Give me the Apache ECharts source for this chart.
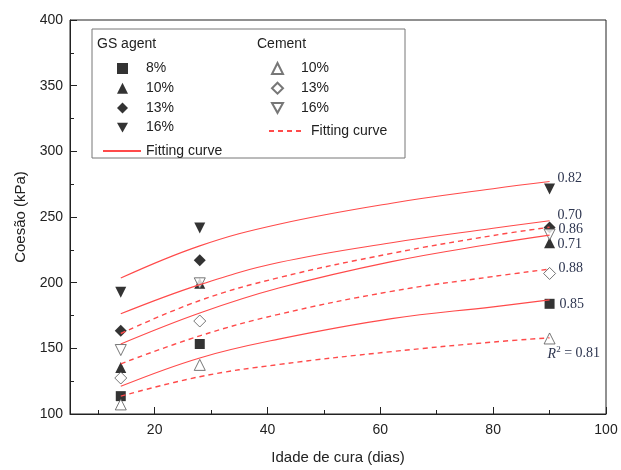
<!DOCTYPE html>
<html>
<head>
<meta charset="utf-8">
<script src="https://cdn.jsdelivr.net/npm/echarts@6/dist/echarts.min.js"></script>
<style>html,body{margin:0;padding:0;background:#fff}#c{width:621px;height:470px}</style>
</head>
<body>
<div id="c"></div>
<script>
// ---- data ----
const days = [14, 28, 90];
const gs8  = [113.6, 153.3, 183.9];
const gs10 = [135.4, 199.5, 230.4];
const gs13 = [163.3, 217.0, 242.0];
const gs16 = [192.7, 241.7, 271.3];
const c10  = [107.3, 137.4, 157.5];
const c13  = [127.4, 170.8, 207.0];
const c16  = [148.7, 199.5, 236.6];

// fitting curves, read at several ages
const fitX   = [14, 28, 42, 62, 80, 90];
const fitGS16 = [203.5, 228.0, 244.5, 260.5, 271.5, 277.0];
const fitGS13 = [176.3, 198.5, 215.3, 230.4, 241.4, 247.2];
const fitGS10 = [153.3, 176.9, 195.9, 216.0, 229.6, 236.2];
const fitGS8  = [121.1, 142.7, 157.0, 172.6, 181.6, 186.9];
const fitC16  = [161.3, 186.4, 203.8, 222.3, 235.9, 242.2];
const fitC13  = [138.2, 159.5, 175.9, 193.4, 204.7, 210.3];
const fitC10  = [113.6, 128.4, 137.7, 147.5, 154.8, 158.0];

const r2GS = ['0.82', '0.70', '0.71', '0.85'];
const r2C  = ['0.86', '0.88', '0.81'];

const xMajor = [20, 40, 60, 80, 100];
const xMinor = [10, 30, 50, 70, 90];

// ---- build ----
const pts = (ys) => days.map((d, i) => [d, ys[i]]);
const fpts = (ys) => fitX.map((d, i) => [d, ys[i]]);
const RED = '#ff4a4a';
const OPEN = {color: '#fff', borderColor: '#555', borderWidth: 1};
const FILL = {color: '#000'};
const lblStyle = {fontFamily: 'Liberation Serif', fontSize: 14, color: '#2e3650'};
const DOWN = 'path://M0,0 L10,0 L5,9 Z';

function scatter(name, ys, symbol, size, style, rot) {
  return {type: 'scatter', name, data: pts(ys), symbol, symbolSize: size,
          symbolRotate: rot || 0, itemStyle: style, z: 2};
}
function fit(name, ys, dashed, txt, off) {
  return {type: 'line', name, data: fpts(ys), smooth: 0.4, symbol: 'none', z: 3,
          lineStyle: {color: RED, width: dashed ? 1.4 : 1.1, type: dashed ? [5, 4] : 'solid'},
          itemStyle: {color: RED},
          endLabel: {show: true, formatter: txt, offset: off, distance: 6, ...lblStyle,
            rich: {i: {fontFamily: 'Liberation Serif', fontStyle: 'italic', fontSize: 14, color: '#2e3650'},
                   s: {fontFamily: 'Liberation Serif', fontSize: 9, color: '#2e3650', verticalAlign: 'bottom', padding: [0, 0, 8, 0]},
                   t: {fontFamily: 'Liberation Serif', fontSize: 14, color: '#2e3650'}}},
          emphasis: {disabled: true}};
}
const nameMap = {'GS 8%': '8%', 'GS 10%': '10%', 'GS 13%': '13%', 'GS 16%': '16%', 'GS fit': 'Fitting curve',
                 'C 10%': '10%', 'C 13%': '13%', 'C 16%': '16%', 'C fit': 'Fitting curve'};
const legTxt = {fontFamily: 'Liberation Sans', fontSize: 14, color: '#222', lineHeight: 14};
const GAP = 6.7;

const option = {
  animation: false,
  backgroundColor: '#fff',
  grid: {left: 70, right: 15, top: 20, bottom: 52, show: true, borderColor: '#222', borderWidth: 1},
  xAxis: [{
    type: 'value', min: 5, max: 100,
    name: 'Idade de cura (dias)', nameLocation: 'middle', nameGap: 36,
    nameTextStyle: {fontFamily: 'Liberation Sans', fontSize: 15, color: '#222'},
    axisLine: {lineStyle: {color: '#222'}},
    axisTick: {inside: true, length: 7, customValues: xMajor, lineStyle: {color: '#222'}},
    axisLabel: {customValues: xMajor, margin: 9, fontFamily: 'Liberation Sans', fontSize: 14, color: '#222'},
    splitLine: {show: false}
  }, {
    type: 'value', min: 5, max: 100, position: 'bottom',
    axisLine: {show: false},
    axisTick: {inside: true, length: 4, customValues: xMinor, lineStyle: {color: '#222'}},
    axisLabel: {show: false}, splitLine: {show: false}
  }],
  yAxis: {
    type: 'value', min: 100, max: 400, interval: 50,
    name: 'Coesão (kPa)', nameLocation: 'middle', nameGap: 42,
    nameTextStyle: {fontFamily: 'Liberation Sans', fontSize: 15, color: '#222'},
    axisLine: {show: true, lineStyle: {color: '#222'}},
    axisTick: {inside: true, length: 7, lineStyle: {color: '#222'}},
    minorTick: {show: true, splitNumber: 2, length: 4, lineStyle: {color: '#222'}},
    axisLabel: {margin: 7, fontFamily: 'Liberation Sans', fontSize: 14, color: '#222'},
    splitLine: {show: false}, minorSplitLine: {show: false}
  },
  legend: [{
    data: [{name: 'GS 8%', icon: 'rect'}, {name: 'GS 10%', icon: 'triangle'},
           {name: 'GS 13%', icon: 'diamond'}, {name: 'GS 16%', icon: DOWN}],
    orient: 'vertical', left: 112, top: 56.5, itemWidth: 11, itemHeight: 11, itemGap: 5.7,
    symbolRotate: 0,
    formatter: n => nameMap[n], textStyle: {...legTxt, padding: [0, 0, 0, 13]}, selectedMode: false
  }, {
    data: ['GS fit'],
    orient: 'vertical', left: 97, top: 139, itemWidth: 38, itemHeight: 10,
    itemStyle: {opacity: 0},
    formatter: n => nameMap[n], textStyle: legTxt, selectedMode: false
  }, {
    data: [{name: 'C 10%', icon: 'triangle'}, {name: 'C 13%', icon: 'diamond'}, {name: 'C 16%', icon: DOWN}],
    orient: 'vertical', left: 266, top: 56.5, itemWidth: 11, itemHeight: 11, itemGap: 5.7,
    symbolRotate: 0,
    formatter: n => nameMap[n], textStyle: {...legTxt, padding: [0, 0, 0, 13]}, selectedMode: false
  }, {
    data: ['C fit'],
    orient: 'vertical', left: 263, top: 119, itemWidth: 34, itemHeight: 10,
    itemStyle: {opacity: 0},
    formatter: n => nameMap[n], textStyle: {...legTxt, padding: [0, 0, 0, 3]}, selectedMode: false
  }],
  graphic: [
    {type: 'rect', shape: {x: 92, y: 29, width: 313, height: 129}, style: {fill: 'none', stroke: '#777', lineWidth: 1}, z: 0},
    {type: 'text', x: 97, y: 44, style: {text: 'GS agent', font: '14px "Liberation Sans"', fill: '#222', verticalAlign: 'middle'}},
    {type: 'text', x: 257, y: 44, style: {text: 'Cement', font: '14px "Liberation Sans"', fill: '#222', verticalAlign: 'middle'}}
  ],
  series: [
    scatter('GS 8%', gs8, 'rect', 10, FILL),
    scatter('GS 10%', gs10, 'triangle', 11, FILL),
    scatter('GS 13%', gs13, 'diamond', 12, FILL),
    scatter('GS 16%', gs16, 'triangle', 11, FILL, 180),
    scatter('C 10%', c10, 'triangle', 11, OPEN),
    scatter('C 13%', c13, 'diamond', 12, OPEN),
    scatter('C 16%', c16, 'triangle', 11, OPEN, 180),
    fit('GS fit', fitGS16, false, r2GS[0], [2, -3]),
    fit('GS fit', fitGS13, false, r2GS[1], [2, -5]),
    fit('GS fit', fitGS10, false, r2GS[2], [2, 9]),
    fit('GS fit', fitGS8,  false, r2GS[3], [4, 4]),
    fit('C fit', fitC16, true, r2C[0], [3, 2]),
    fit('C fit', fitC13, true, r2C[1], [3, -1]),
    fit('C fit', fitC10, true, '{i|R}{s|2}{t| = ' + r2C[2] + '}', [-8, 16])
  ]
};
const chart = echarts.init(document.getElementById('c'), null, {renderer: 'canvas'});
chart.setOption(option);
</script>
</body>
</html>
